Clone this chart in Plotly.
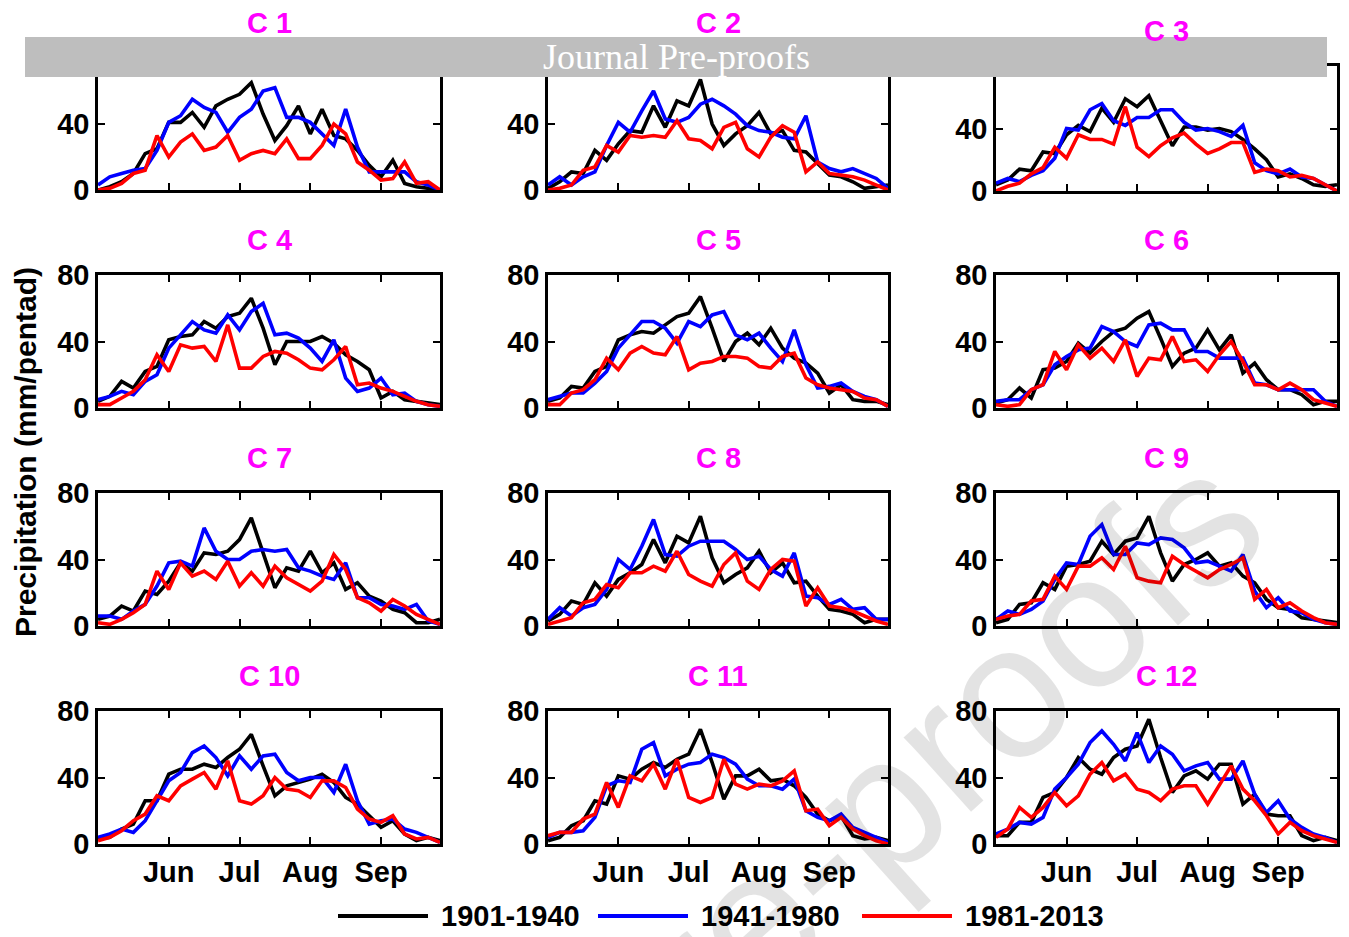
import plotly.graph_objects as go
from plotly.subplots import make_subplots

# The page body adds an 8 px margin, so every reference pixel position is
# shifted by 8 px when mapped into the figure.
PAGE_W, PAGE_H, OFF = 1349, 937, 8
W, H = PAGE_W - OFF, PAGE_H - OFF

# ---------------- data ----------------
pentad = list(range(1, 31))            # pentads May 1 .. Sep 30
month_tickvals = [7, 13, 19, 25]
month_ticktext = ["Jun", "Jul", "Aug", "Sep"]
y_tickvals = [0, 40, 80]
y_ticktext = ["0", "40", "80"]
panel_titles = ["C 1", "C 2", "C 3", "C 4", "C 5", "C 6",
                "C 7", "C 8", "C 9", "C 10", "C 11", "C 12"]
periods = ["1901-1940", "1941-1980", "1981-2013"]
period_colors = ["#000000", "#0000FF", "#FF0000"]

c1_1901 = [0, 2, 5, 10, 22, 25, 41, 41, 47, 38, 51, 55, 58, 65, 46, 30, 39, 51, 34, 49, 33, 31, 24, 15, 8, 18, 4, 2, 1, 0]
c1_1941 = [3, 8, 10, 12, 13, 24, 41, 45, 55, 50, 47, 35, 44, 49, 60, 62, 44, 44, 41, 34, 27, 49, 26, 11, 11, 11, 11, 5, 3, 0]
c1_1981 = [0, 1, 4, 10, 12, 33, 20, 29, 34, 24, 26, 33, 18, 22, 24, 22, 31, 19, 19, 27, 40, 34, 17, 12, 6, 7, 17, 4, 5, 0]

c2_1901 = [1, 5, 11, 10, 24, 18, 28, 36, 35, 51, 38, 54, 51, 67, 40, 27, 34, 39, 47, 34, 36, 24, 23, 16, 9, 8, 5, 1, 2, 3]
c2_1941 = [3, 8, 3, 8, 11, 27, 41, 35, 48, 60, 43, 41, 44, 52, 55, 51, 46, 39, 36, 35, 32, 31, 45, 17, 13, 11, 13, 10, 7, 1]
c2_1981 = [0, 1, 3, 12, 14, 27, 23, 33, 32, 33, 32, 42, 31, 30, 25, 38, 41, 25, 20, 32, 39, 35, 11, 17, 10, 9, 8, 6, 3, 0]

c3_1901 = [4, 7, 14, 13, 25, 24, 36, 42, 38, 53, 44, 59, 54, 61, 45, 29, 41, 41, 39, 40, 38, 33, 27, 20, 9, 11, 8, 4, 3, 4]
c3_1941 = [5, 8, 6, 10, 13, 21, 40, 39, 52, 56, 45, 42, 47, 47, 52, 52, 44, 39, 40, 38, 35, 42, 18, 13, 11, 14, 9, 8, 4, 0]
c3_1981 = [0, 3, 5, 11, 15, 28, 21, 36, 33, 33, 30, 54, 28, 22, 29, 34, 37, 30, 24, 27, 31, 31, 12, 14, 13, 9, 10, 8, 4, 0]

c4_1901 = [4, 7, 16, 12, 22, 25, 41, 43, 44, 52, 48, 55, 57, 66, 48, 26, 40, 40, 40, 43, 39, 32, 28, 23, 6, 10, 5, 4, 3, 2]
c4_1941 = [5, 7, 10, 8, 16, 20, 36, 44, 52, 47, 45, 56, 47, 58, 63, 44, 45, 42, 36, 28, 41, 18, 10, 12, 18, 8, 9, 4, 2, 1]
c4_1981 = [2, 2, 6, 10, 17, 32, 22, 38, 36, 37, 28, 50, 24, 24, 31, 34, 33, 29, 24, 23, 29, 37, 14, 15, 12, 10, 7, 4, 2, 1]

c5_1901 = [4, 6, 13, 12, 22, 25, 41, 44, 46, 45, 50, 55, 57, 67, 48, 28, 40, 45, 38, 48, 36, 30, 27, 21, 9, 14, 5, 4, 4, 2]
c5_1941 = [5, 7, 9, 9, 15, 22, 36, 44, 52, 52, 48, 39, 52, 49, 56, 58, 44, 41, 45, 36, 28, 47, 26, 12, 13, 15, 10, 7, 5, 1]
c5_1981 = [2, 2, 9, 11, 17, 30, 23, 33, 37, 33, 32, 43, 23, 27, 28, 31, 31, 30, 25, 24, 31, 33, 18, 14, 12, 11, 10, 6, 5, 1]

c6_1901 = [3, 5, 12, 6, 23, 24, 28, 39, 33, 40, 46, 48, 54, 58, 42, 25, 33, 36, 47, 35, 44, 21, 27, 17, 11, 11, 8, 2, 4, 4]
c6_1941 = [4, 5, 5, 11, 14, 26, 31, 35, 36, 49, 46, 40, 37, 50, 51, 47, 47, 34, 34, 30, 30, 30, 15, 14, 11, 11, 11, 11, 4, 1]
c6_1981 = [2, 1, 2, 11, 14, 34, 23, 38, 30, 36, 28, 41, 19, 30, 29, 43, 28, 29, 22, 32, 40, 28, 14, 14, 11, 15, 11, 5, 3, 1]

c7_1901 = [4, 6, 12, 9, 21, 19, 27, 38, 33, 44, 43, 45, 52, 65, 44, 23, 35, 33, 45, 32, 38, 22, 26, 18, 15, 10, 8, 2, 2, 4]
c7_1941 = [6, 6, 4, 9, 13, 24, 38, 39, 36, 59, 45, 40, 40, 45, 46, 45, 46, 35, 33, 30, 28, 38, 17, 17, 13, 12, 10, 13, 3, 1]
c7_1981 = [2, 1, 4, 8, 13, 33, 22, 38, 30, 33, 28, 39, 24, 32, 24, 36, 29, 25, 21, 27, 43, 34, 17, 14, 9, 16, 12, 7, 4, 1]

c8_1901 = [3, 7, 15, 13, 26, 18, 28, 32, 37, 52, 38, 54, 50, 66, 41, 26, 31, 35, 45, 32, 38, 26, 27, 18, 10, 9, 7, 2, 4, 4]
c8_1941 = [4, 11, 6, 11, 13, 22, 40, 34, 48, 64, 43, 42, 48, 51, 51, 51, 46, 40, 42, 34, 30, 44, 18, 17, 13, 16, 10, 11, 4, 4]
c8_1981 = [1, 3, 5, 14, 16, 25, 23, 32, 32, 36, 33, 45, 31, 27, 24, 37, 44, 27, 22, 34, 40, 39, 12, 23, 12, 11, 9, 6, 3, 1]

c9_1901 = [2, 4, 13, 14, 26, 22, 36, 37, 39, 51, 43, 51, 53, 66, 44, 27, 37, 40, 44, 36, 38, 30, 26, 16, 11, 10, 5, 4, 3, 2]
c9_1941 = [4, 9, 7, 10, 15, 28, 38, 37, 54, 61, 43, 43, 50, 49, 53, 52, 47, 38, 39, 36, 33, 43, 21, 11, 17, 9, 8, 4, 2, 1]
c9_1981 = [4, 6, 7, 15, 16, 30, 22, 36, 36, 41, 34, 48, 29, 27, 26, 42, 37, 33, 29, 34, 37, 41, 16, 22, 11, 14, 9, 5, 2, 1]

c10_1901 = [3, 4, 9, 12, 26, 26, 42, 45, 45, 48, 46, 52, 57, 66, 47, 29, 35, 37, 39, 42, 37, 28, 24, 17, 10, 14, 6, 2, 4, 2]
c10_1941 = [4, 6, 9, 7, 14, 26, 38, 43, 55, 59, 52, 41, 53, 45, 53, 54, 43, 38, 40, 40, 31, 48, 26, 12, 14, 15, 9, 7, 4, 1]
c10_1981 = [2, 4, 8, 14, 18, 29, 26, 35, 39, 43, 33, 50, 26, 24, 29, 40, 33, 32, 28, 38, 38, 34, 21, 15, 13, 17, 6, 3, 4, 1]

c11_1901 = [2, 4, 11, 14, 26, 24, 41, 39, 45, 49, 46, 51, 54, 69, 49, 27, 41, 41, 45, 38, 39, 35, 28, 18, 14, 17, 5, 3, 4, 2]
c11_1941 = [4, 7, 7, 8, 16, 35, 38, 37, 57, 61, 41, 45, 48, 49, 54, 52, 48, 39, 35, 35, 33, 39, 20, 16, 14, 18, 10, 7, 4, 1]
c11_1981 = [5, 7, 7, 15, 18, 37, 22, 41, 38, 48, 33, 51, 28, 25, 28, 51, 36, 33, 36, 35, 38, 44, 20, 21, 11, 16, 9, 5, 2, 0]

c12_1901 = [5, 5, 13, 13, 28, 31, 40, 52, 45, 42, 52, 57, 59, 75, 52, 31, 41, 44, 39, 48, 48, 24, 30, 18, 17, 17, 5, 2, 4, 2]
c12_1941 = [6, 9, 13, 12, 16, 33, 40, 48, 61, 68, 60, 50, 67, 49, 59, 54, 44, 47, 49, 39, 39, 50, 30, 19, 26, 15, 10, 6, 4, 1]
c12_1981 = [4, 9, 22, 16, 22, 31, 23, 29, 42, 49, 38, 42, 33, 31, 26, 33, 35, 35, 24, 35, 47, 33, 26, 17, 6, 13, 8, 5, 3, 1]

panel_series = [
    (c1_1901, c1_1941, c1_1981), (c2_1901, c2_1941, c2_1981), (c3_1901, c3_1941, c3_1981),
    (c4_1901, c4_1941, c4_1981), (c5_1901, c5_1941, c5_1981), (c6_1901, c6_1941, c6_1981),
    (c7_1901, c7_1941, c7_1981), (c8_1901, c8_1941, c8_1981), (c9_1901, c9_1941, c9_1981),
    (c10_1901, c10_1941, c10_1981), (c11_1901, c11_1941, c11_1981), (c12_1901, c12_1941, c12_1981),
]

# ---------------- layout geometry (page pixels) ----------------
FONT = "Liberation Sans, Arial, Helvetica, sans-serif"
col_px = [(98, 440), (548, 888), (996, 1337)]
row_px = [(58, 190), (275, 408), (493, 626), (711, 844)]


def px_x(v):
    return (v - OFF) / W


def px_y(v):
    return 1 - (v - OFF) / H


fig = make_subplots(rows=4, cols=3)

for k, series in enumerate(panel_series):
    r, c = k // 3 + 1, k % 3 + 1
    for vals, name, colr in zip(series, periods, period_colors):
        fig.add_trace(
            go.Scatter(x=pentad, y=vals, mode="lines", name=name,
                       line=dict(color=colr, width=3.6),
                       showlegend=False, hoverinfo="skip"),
            row=r, col=c)

    x0, x1 = col_px[c - 1]
    top, bot = row_px[r - 1]
    if k == 2:
        top, bot = 66, 191
    fig.update_xaxes(
        domain=[px_x(x0), px_x(x1)], range=[1, 30],
        tickvals=month_tickvals, ticktext=month_ticktext,
        showticklabels=(r == 4),
        ticks="inside", ticklen=7, tickwidth=2, tickcolor="black",
        showline=True, linewidth=2.5, linecolor="black", mirror="ticks",
        showgrid=False, zeroline=False, automargin=False,
        tickfont=dict(family=FONT, size=29, color="black", weight="bold"),
        row=r, col=c)
    fig.update_yaxes(
        domain=[px_y(bot), px_y(top)], range=[0, 80],
        tickvals=y_tickvals, ticktext=y_ticktext,
        ticks="inside", ticklen=7, tickwidth=2, tickcolor="black",
        showline=True, linewidth=2.5, linecolor="black", mirror="ticks",
        showgrid=False, zeroline=False, automargin=False,
        tickfont=dict(family=FONT, size=29, color="black", weight="bold"),
        row=r, col=c)
    fig.add_annotation(
        text=panel_titles[k], xref="paper", yref="paper",
        x=px_x((x0 + x1) / 2), y=px_y(top - 35),
        xanchor="center", yanchor="middle", showarrow=False,
        font=dict(family=FONT, size=29, color="#FF00FF", weight="bold"))

# y-axis title
fig.add_annotation(
    text="Precipitation (mm/pentad)", xref="paper", yref="paper",
    x=px_x(25), y=px_y(452), textangle=-90, showarrow=False,
    xanchor="center", yanchor="middle",
    font=dict(family=FONT, size=30, color="black", weight="bold"))

# legend (drawn as key lines + labels)
legend_key_px = [(338, 428), (598, 688), (862, 952)]
for (lx0, lx1), name, colr in zip(legend_key_px, periods, period_colors):
    fig.add_shape(type="line", xref="paper", yref="paper",
                  x0=px_x(lx0), x1=px_x(lx1), y0=px_y(916), y1=px_y(916),
                  line=dict(color=colr, width=3.8))
    fig.add_annotation(text=name, xref="paper", yref="paper",
                       x=px_x(lx1 + 11), y=px_y(916), xanchor="left",
                       yanchor="middle", showarrow=False,
                       font=dict(family=FONT, size=29, color="black", weight="bold"))

# journal banner
fig.add_shape(type="rect", xref="paper", yref="paper",
              x0=px_x(25), x1=px_x(1327), y0=px_y(77), y1=px_y(37),
              fillcolor="#BEBEBE", line=dict(width=0), layer="above")
fig.add_annotation(text="Journal Pre-proofs", xref="paper", yref="paper",
                   x=px_x(676), y=px_y(57), xanchor="center", yanchor="middle",
                   showarrow=False,
                   font=dict(family="Liberation Serif, Times New Roman, serif",
                             size=36, color="white"))

# diagonal watermark (mostly outside the page, as in the reference)
fig.add_annotation(text="Journal Pre-proofs", xref="paper", yref="paper",
                   x=px_x(650), y=px_y(1012), xanchor="center", yanchor="middle",
                   textangle=-42, showarrow=False,
                   font=dict(family=FONT, size=190, color="rgba(0,0,0,0.11)"))

fig.update_layout(
    width=W, height=H,
    margin=dict(l=0, r=0, t=0, b=0, autoexpand=False),
    paper_bgcolor="white", plot_bgcolor="white",
    showlegend=False,
    font=dict(family=FONT, color="black"),
)

fig.write_html("out.html")
